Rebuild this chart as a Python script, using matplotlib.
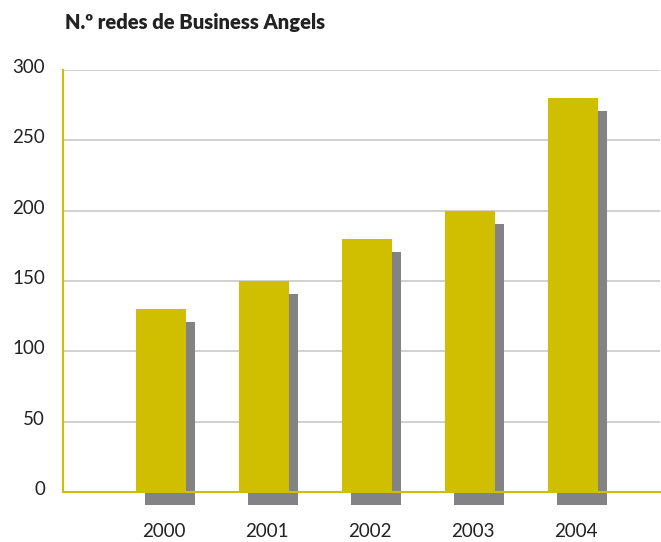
import matplotlib
matplotlib.use("Agg")
import matplotlib.pyplot as plt
import matplotlib.transforms as mtransforms

years = ["2000", "2001", "2002", "2003", "2004"]
values = [130, 150, 180, 200, 280]
yticks = [0, 50, 100, 150, 200, 250, 300]

YELLOW = "#CFBF00"
GRAY = "#838386"
GRID = "#C8C8C8"

plt.rcParams["font.family"] = ["Lato", "DejaVu Sans"]

fig = plt.figure(figsize=(6.61, 5.42), dpi=100)
W, H = 661, 542
ax = fig.add_axes([63 / W, 1 - 492 / H, (660 - 63) / W, (492 - 70) / H])

x = list(range(len(years)))
width = 0.485

# shadow bars offset right and down
shadow_tr = ax.transData + mtransforms.ScaledTranslation(9 / 100, -13 / 100, fig.dpi_scale_trans)
shadows = ax.bar(x, values, width=width, color=GRAY, zorder=2)
for r in shadows:
    r.set_transform(shadow_tr)
    r.set_clip_on(False)
ax.bar(x, values, width=width, color=YELLOW, zorder=3)

ax.set_xlim(-0.951, 4.845)
ax.set_ylim(0, 300)
ax.set_yticks(yticks)
ax.set_yticklabels([str(v) for v in yticks])
ax.set_xticks(x)
ax.set_xticklabels(years)
ax.yaxis.grid(True, color=GRID, linewidth=1.2, zorder=0)
ax.set_axisbelow(True)

for s in ["top", "right"]:
    ax.spines[s].set_visible(False)
ax.spines["left"].set_color(YELLOW)
ax.spines["bottom"].set_color(YELLOW)
ax.spines["left"].set_linewidth(1.5)
ax.spines["bottom"].set_linewidth(1.5)
ax.spines["left"].set_zorder(5)
ax.spines["bottom"].set_zorder(5)

ax.tick_params(axis="both", length=0, labelsize=13.5, colors="#222222")
ax.tick_params(axis="y", pad=13)
ax.tick_params(axis="x", pad=22)
for lbl in ax.get_yticklabels():
    lbl.set_transform(lbl.get_transform() + mtransforms.ScaledTranslation(0, 4 / 100, fig.dpi_scale_trans))
for lbl in ax.get_xticklabels():
    lbl.set_transform(lbl.get_transform() + mtransforms.ScaledTranslation(3 / 100, 0, fig.dpi_scale_trans))

fig.text(65 / W, 1 - 22 / H, "N.º redes de Business Angels", fontsize=14.5, fontweight="heavy",
         color="#222222", ha="left", va="center")

fig.savefig("out.png", dpi=100)
